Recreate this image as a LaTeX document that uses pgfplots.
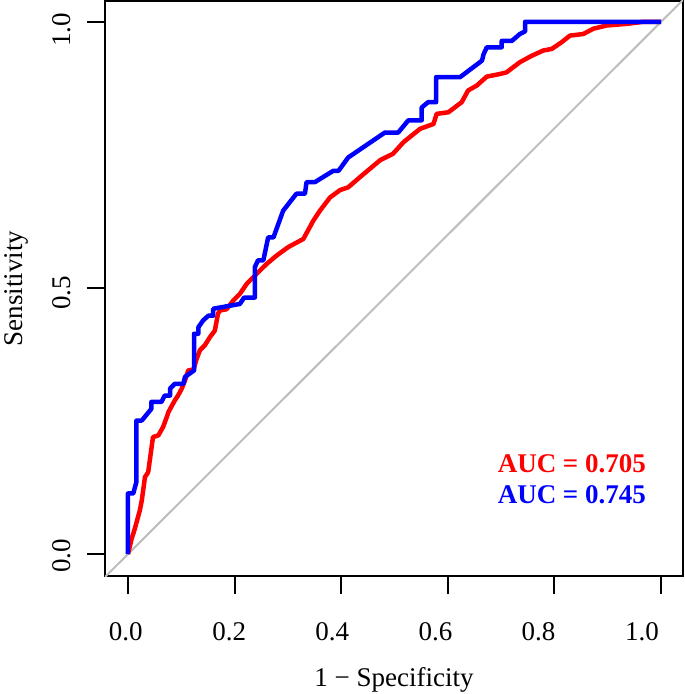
\documentclass[border=0pt]{standalone}
\usepackage{fontspec}
\setmainfont{Liberation Serif}
\usepackage{pgfplots}
\pgfplotsset{compat=1.18}
\begin{document}
\begin{tikzpicture}[font=\fontsize{27}{32}\selectfont]
\useasboundingbox (-105pt,-118pt) rectangle (580pt,576pt);
\begin{axis}[
  at={(0pt,0pt)}, anchor=south west,
  scale only axis, width=578pt, height=575pt,
  xmin=-0.043, xmax=1.041, ymin=-0.041, ymax=1.039,
  axis line style={line width=2.2pt, black},
  tick pos=left, tick align=outside,
  major tick length=18pt,
  every tick/.style={line width=2pt, black},
  xtick={0,0.2,0.4,0.6,0.8,1}, xticklabels={},
  ytick={0,0.5,1}, yticklabels={},
  extra x ticks={-0.004,0.19,0.383,0.577,0.77,0.964},
  extra x tick labels={0.0,0.2,0.4,0.6,0.8,1.0},
  extra y ticks={-0.003,0.491,0.985},
  extra y tick labels={0.0,0.5,1.0},
  extra tick style={major tick length=0pt},
  xticklabel style={anchor=center, yshift=-56pt},
  yticklabel style={anchor=center, xshift=-43pt, rotate=90},
  xlabel={1 − Specificity},
  ylabel={Sensitivity},
  xlabel style={at={(axis description cs:0.5,-0.181)}, anchor=center},
  ylabel style={at={(axis description cs:-0.154,0.5)}, anchor=center},
  clip=true,
]
\addplot[color={rgb,255:red,190;green,190;blue,190}, line width=2pt] coordinates {(-0.05,-0.05) (1.05,1.05)};
\addplot[red, line width=4.5pt, line join=round] coordinates {
(0,0)(0.007,0.029)(0.013,0.048)(0.019,0.07)(0.0225,0.083)(0.026,0.101)(0.032,0.145)(0.038,0.154)(0.041,0.176)(0.047,0.22)(0.057,0.223)(0.066,0.239)(0.073,0.258)(0.076,0.267)(0.088,0.289)(0.094,0.298)(0.101,0.311)(0.107,0.326)(0.113,0.345)(0.123,0.347)(0.129,0.367)(0.135,0.383)(0.144,0.392)(0.154,0.408)(0.163,0.42)(0.169,0.452)(0.173,0.458)(0.185,0.46)(0.198,0.477)(0.21,0.489)(0.223,0.508)(0.248,0.533)(0.26,0.545)(0.279,0.561)(0.301,0.577)(0.329,0.592)(0.348,0.627)(0.36,0.645)(0.379,0.67)(0.398,0.684)(0.413,0.689)(0.435,0.708)(0.454,0.724)(0.473,0.74)(0.497,0.752)(0.517,0.774)(0.548,0.799)(0.573,0.808)(0.579,0.827)(0.601,0.83)(0.626,0.849)(0.638,0.871)(0.654,0.88)(0.673,0.897)(0.698,0.902)(0.71,0.905)(0.735,0.924)(0.757,0.936)(0.779,0.946)(0.795,0.949)(0.814,0.962)(0.829,0.974)(0.854,0.977)(0.873,0.987)(0.898,0.993)(0.935,0.996)(0.967,1)(1,1)
};
\addplot[blue, line width=4.5pt, line join=round] coordinates {
(0,0)(0,0.114)(0.01,0.114)(0.016,0.136)(0.016,0.251)(0.026,0.251)(0.044,0.273)(0.044,0.286)(0.063,0.286)(0.069,0.298)(0.079,0.298)(0.079,0.311)(0.088,0.32)(0.104,0.32)(0.107,0.333)(0.124,0.345)(0.124,0.414)(0.132,0.414)(0.132,0.426)(0.141,0.439)(0.151,0.448)(0.16,0.448)(0.16,0.461)(0.21,0.47)(0.218,0.482)(0.238,0.482)(0.238,0.539)(0.244,0.552)(0.254,0.552)(0.263,0.595)(0.273,0.595)(0.291,0.645)(0.316,0.677)(0.332,0.677)(0.335,0.699)(0.351,0.699)(0.385,0.72)(0.395,0.72)(0.413,0.745)(0.482,0.792)(0.507,0.792)(0.526,0.815)(0.551,0.815)(0.551,0.839)(0.563,0.849)(0.578,0.849)(0.578,0.896)(0.623,0.896)(0.664,0.927)(0.667,0.939)(0.673,0.952)(0.701,0.952)(0.701,0.964)(0.72,0.964)(0.735,0.977)(0.745,0.982)(0.745,1)(1,1)
};
\node[red, font=\fontsize{27}{32}\selectfont\bfseries, anchor=center] at (axis cs:0.8325,0.1695) {AUC = 0.705};
\node[blue, font=\fontsize{27}{32}\selectfont\bfseries, anchor=center] at (axis cs:0.8325,0.112) {AUC = 0.745};
\end{axis}
\end{tikzpicture}
\end{document}
